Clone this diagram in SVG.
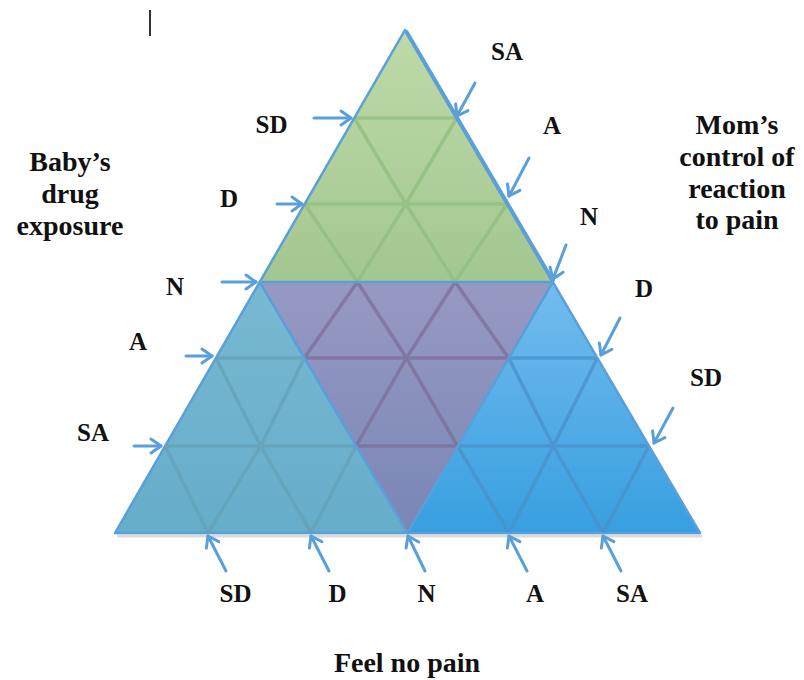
<svg xmlns="http://www.w3.org/2000/svg" xmlns:xlink="http://www.w3.org/1999/xlink" width="804" height="680" viewBox="0 0 804 680">
<style>
  .lbl{font-family:"Liberation Serif","Times New Roman",serif;font-weight:bold;font-size:25px;fill:#111;text-anchor:middle}
  .big{font-family:"Liberation Serif","Times New Roman",serif;font-weight:bold;font-size:28px;fill:#111;text-anchor:middle}
  .edge{fill:none;stroke:#5a9fd8;stroke-width:2.5;stroke-linejoin:round}
  .arrow{fill:none;stroke:#5b9fd9;stroke-width:3;stroke-linecap:round;marker-end:url(#head)}
  .grid{fill:none;stroke-width:3.5;stroke-linejoin:round;stroke-opacity:0.75}
</style>
<defs>
  <marker id="head" markerUnits="userSpaceOnUse" markerWidth="20" markerHeight="20" refX="0" refY="0" viewBox="-12 -10 14 20" orient="auto">
    <path d="M-10,-7 L0,0 L-10,7" fill="none" stroke="#5b9fd9" stroke-width="3" stroke-linecap="round" stroke-linejoin="round"/>
  </marker>
  <linearGradient id="gGreen" x1="0" y1="30" x2="0" y2="282" gradientUnits="userSpaceOnUse">
    <stop offset="0" stop-color="#bddaa9"/><stop offset="1" stop-color="#a3c790"/>
  </linearGradient>
  <linearGradient id="gPurple" x1="0" y1="282" x2="0" y2="533" gradientUnits="userSpaceOnUse">
    <stop offset="0" stop-color="#9799c3"/><stop offset="1" stop-color="#7a86b7"/>
  </linearGradient>
  <linearGradient id="gTeal" x1="0" y1="282" x2="0" y2="533" gradientUnits="userSpaceOnUse">
    <stop offset="0" stop-color="#78b9d2"/><stop offset="1" stop-color="#66adca"/>
  </linearGradient>
  <linearGradient id="gBlue" x1="0" y1="282" x2="0" y2="533" gradientUnits="userSpaceOnUse">
    <stop offset="0" stop-color="#74bcee"/><stop offset="1" stop-color="#379fe0"/>
  </linearGradient>
  <clipPath id="cGreen"><path d="M405,30 L552.8,282 L259.7,282 Z"/></clipPath>
  <clipPath id="cPurple"><path d="M259.7,282 L552.8,282 L407.5,533 Z"/></clipPath>
  <clipPath id="cTeal"><path d="M259.7,282 L407.5,533 L115,533 Z"/></clipPath>
  <clipPath id="cBlue"><path d="M552.8,282 L700,533 L407.5,533 Z"/></clipPath>
  <path id="lattice" d="M354.3,118 H456.6 M304.7,204 H507 M215.9,358 H597.4 M165.2,446 H649
    M456.6,118 L405.85,204 L357.4,282 L304.3,358 L260.6,446 L208,533
    M507,204 L455.1,282 L406.5,358 L356,446 L311,533
    M597.4,358 L553.3,446 L509,533
    M649,446 L603,533
    M354.3,118 L405.85,204 L455.1,282 L508.7,358 L553.3,446 L603,533
    M304.7,204 L357.4,282 L406.5,358 L457.5,446 L509,533
    M215.9,358 L260.6,446 L311,533
    M165.2,446 L208,533"/>
</defs>

<rect width="804" height="680" fill="#ffffff"/>
<rect x="149" y="10" width="2" height="26" fill="#333333"/>

<g id="shadow">
  <path d="M117,536 L702,536" stroke="#999" stroke-opacity="0.35" stroke-width="3"/>
</g>

<g id="region-green">
  <path d="M405,30 L552.8,282 L259.7,282 Z" fill="url(#gGreen)"/>
  <g clip-path="url(#cGreen)"><use xlink:href="#lattice" class="grid" stroke="#8fbd7c"/></g>
</g>
<g id="region-purple">
  <path d="M259.7,282 L552.8,282 L407.5,533 Z" fill="url(#gPurple)"/>
  <g clip-path="url(#cPurple)"><use xlink:href="#lattice" class="grid" stroke="#7b6f98"/></g>
</g>
<g id="region-teal">
  <path d="M259.7,282 L407.5,533 L115,533 Z" fill="url(#gTeal)"/>
  <g clip-path="url(#cTeal)"><use xlink:href="#lattice" class="grid" stroke="#64a2b6"/></g>
</g>
<g id="region-blue">
  <path d="M552.8,282 L700,533 L407.5,533 Z" fill="url(#gBlue)"/>
  <g clip-path="url(#cBlue)"><use xlink:href="#lattice" class="grid" stroke="#4990c9"/></g>
</g>

<g id="outlines">
  <path class="edge" d="M405,30 L700,533 L115,533 Z"/>
  <path class="edge" d="M259.7,282 L552.8,282 L407.5,533 Z"/>
  <path d="M406,31 L553.5,282" stroke="#5a9fd8" stroke-width="4" fill="none"/>
</g>

<g id="connectors">
  <path class="arrow" d="M314,118 L351,118"/>
  <path class="arrow" d="M277,204 L302,204"/>
  <path class="arrow" d="M222,282 L256,282"/>
  <path class="arrow" d="M186,356 L212,356"/>
  <path class="arrow" d="M134,446 L161,446"/>
  <path class="arrow" d="M475,83 L457,116"/>
  <path class="arrow" d="M529,158 L509,196"/>
  <path class="arrow" d="M566,245 L553,279"/>
  <path class="arrow" d="M620,318 L601,355"/>
  <path class="arrow" d="M673,408 L654,443"/>
  <path class="arrow" d="M226,571 L208,536"/>
  <path class="arrow" d="M329,571 L311,536"/>
  <path class="arrow" d="M425,571 L408,536"/>
  <path class="arrow" d="M527,571 L509,536"/>
  <path class="arrow" d="M621,571 L603,536"/>
</g>

<g id="labels-left">
  <text class="lbl" x="271.5" y="133">SD</text>
  <text class="lbl" x="229" y="207">D</text>
  <text class="lbl" x="175" y="295">N</text>
  <text class="lbl" x="138" y="350">A</text>
  <text class="lbl" x="93" y="441">SA</text>
</g>
<g id="labels-right">
  <text class="lbl" x="507" y="60">SA</text>
  <text class="lbl" x="552" y="134">A</text>
  <text class="lbl" x="589" y="225">N</text>
  <text class="lbl" x="644" y="297">D</text>
  <text class="lbl" x="706" y="386">SD</text>
</g>
<g id="labels-bottom">
  <text class="lbl" x="235.5" y="602">SD</text>
  <text class="lbl" x="337.5" y="602">D</text>
  <text class="lbl" x="426.5" y="602">N</text>
  <text class="lbl" x="535" y="602">A</text>
  <text class="lbl" x="632" y="602">SA</text>
</g>

<g id="title-baby">
  <text class="big" x="70" y="171">Baby’s</text>
  <text class="big" x="70" y="203">drug</text>
  <text class="big" x="70" y="235">exposure</text>
</g>
<g id="title-mom">
  <text class="big" x="737" y="134">Mom’s</text>
  <text class="big" x="737" y="166">control of</text>
  <text class="big" x="737" y="198">reaction</text>
  <text class="big" x="737" y="229">to pain</text>
</g>
<g id="title-feel">
  <text class="big" x="407" y="672">Feel no pain</text>
</g>
</svg>
